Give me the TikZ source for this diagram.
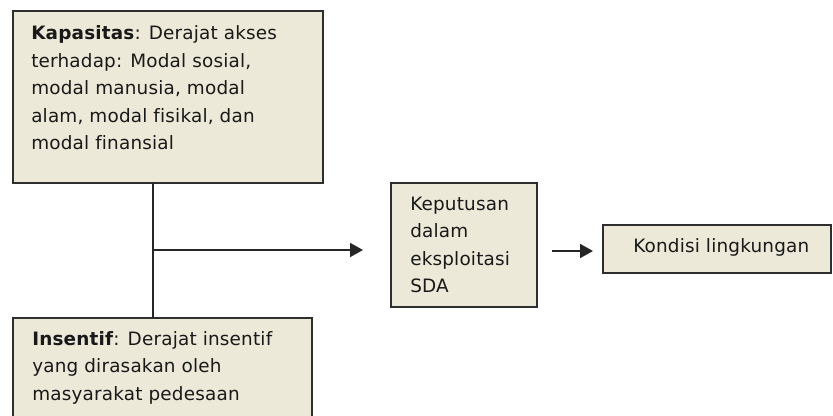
\documentclass[tikz,border=0pt]{standalone}
\usepackage{fontspec}
\setmainfont{DejaVu Sans}[LetterSpace=1,Ligatures=NoCommon]
\usetikzlibrary{arrows.meta}
\definecolor{boxfill}{HTML}{ECE9D8}
\definecolor{boxline}{HTML}{2E2E2E}
\begin{document}
\begin{tikzpicture}[x=0.75pt,y=-0.75pt,
  box/.style={draw=boxline,fill=boxfill,line width=1.5pt,inner sep=0pt,outer sep=0pt,anchor=north west},
  txt/.style={anchor=north west,inner sep=0pt,align=left,text=black!90,font=\fontsize{13.8}{20.6}\selectfont},
  conn/.style={draw=black!85,line width=1.5pt},
  arr/.style={conn,-{Triangle[length=9.75pt,width=10.5pt]}}]
\useasboundingbox (0,0) rectangle (833,416);
\clip (0,0) rectangle (833,416);
\fill[white] (0,0) rectangle (833,416);
% boxes
\node[box,minimum width=232.5pt,minimum height=129pt] (kap) at (13,11) {};
\node[box,minimum width=224.25pt,minimum height=84pt] (ins) at (13,318) {};
\node[box,minimum width=109.5pt,minimum height=93pt] (kep) at (391,183) {};
\node[box,minimum width=171pt,minimum height=36pt] (kon) at (603,225) {};
% texts
\node[txt] (t1) at (31,25.5) {\textbf{Kapasitas}: Derajat akses\\terhadap: Modal sosial,\\modal manusia, modal\\alam, modal fisikal, dan\\modal finansial};
\node[txt] (t2) at (32,331.2) {\textbf{Insentif}: Derajat insentif\\yang dirasakan oleh\\masyarakat pedesaan};
\node[txt] (t3) at (410,196.8) {Keputusan\\dalam\\eksploitasi\\SDA};
\node[txt] (t4) at (633,237.8) {Kondisi lingkungan};
% connectors
\coordinate (j) at (153,250);
\coordinate (a2) at (545,251);
\draw[conn] (kap.south -| j) -- (ins.north -| j);
\draw[arr,shorten >=21pt] (j) -- (j -| kep.west);
\draw[arr,shorten <=11.25pt,shorten >=7.5pt] (kep.east |- a2) -- (kon.west |- a2);
\end{tikzpicture}
\end{document}
